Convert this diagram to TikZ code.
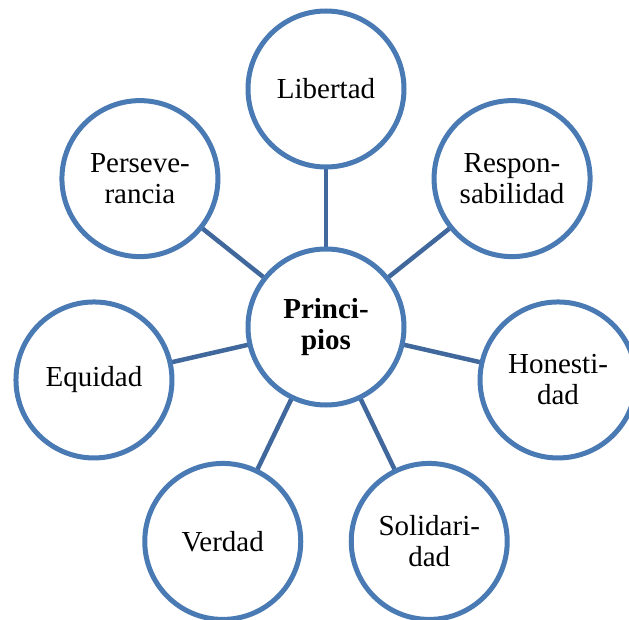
\documentclass[tikz,border=0pt]{standalone}
\usepackage{fontspec}
\setmainfont{Liberation Serif}
\usetikzlibrary{backgrounds}
\definecolor{ringblue}{RGB}{74,122,180}
\definecolor{spokeblue}{RGB}{64,104,156}
\tikzset{
  value/.style={circle, draw=ringblue, line width=5pt, fill=white,
    minimum size=156pt, inner sep=0pt, align=center,
    font=\fontsize{29}{31}\selectfont},
  hub/.style={value, font=\fontsize{29}{31}\selectfont\bfseries},
  spoke/.style={draw=spokeblue, line width=4.5pt}
}
\begin{document}
\begin{tikzpicture}[x=1pt, y=1pt]
  \useasboundingbox (0,0) rectangle (629,619);
  \clip (0,0) rectangle (629,619);
  % hub and the seven values around it
  \node[hub] (hub) at (326,292) {Princi-\\pios};
  \begin{scope}[shift={(326,292)}]
    \node[value] (lib) at (90:238) {Libertad};
    \node[value] (res) at (38.57:238) {Respon-\\sabilidad};
    \node[value] (hon) at (-12.86:238) {Honesti-\\dad};
    \node[value] (sol) at (-64.29:238) {Solidari-\\dad};
    \node[value] (ver) at (-115.71:238) {Verdad};
    \node[value] (equ) at (-167.14:238) {Equidad};
    \node[value] (per) at (141.43:238) {Perseve-\\rancia};
  \end{scope}
  % spokes, drawn beneath the circles
  \begin{scope}[on background layer]
    \fill[white] (0,0) rectangle (629,619);
    \foreach \n in {lib,res,hon,sol,ver,equ,per}
      \draw[spoke] (hub.center) -- (\n.center);
  \end{scope}
\end{tikzpicture}
\end{document}
